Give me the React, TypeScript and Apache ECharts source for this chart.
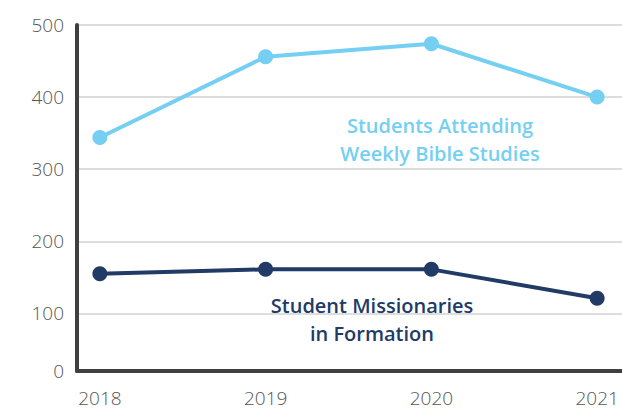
import React, { useEffect, useRef } from "react";
import * as echarts from "echarts";

const years = [2018, 2019, 2020, 2021];
const bibleStudies = [344, 456, 474, 400];
const missionaries = [155, 161, 161, 121];
const yTickValues = [20, 100, 200, 300, 400, 500];
const yTickLabels = ["0", "100", "200", "300", "400", "500"];
const gridValues = [100, 200, 300, 400, 500];
const bibleLabel = ["Students Attending", "Weekly Bible Studies"];
const missionLabel = ["Student Missionaries", "in Formation"];

const LIGHT = "#74cff2";
const DARK = "#213a66";
const TICK_FONT = "'Open Sans'";
const LABEL_FONT = "'Open Sans'";

function lineText(text: string, x: number, y: number, fill: string) {
  return {
    type: "text",
    x,
    y,
    style: {
      text,
      fill,
      font: `600 20px ${LABEL_FONT}`,
      align: "center",
      verticalAlign: "middle",
    },
  };
}

export default function App() {
  const ref = useRef<HTMLDivElement>(null);
  useEffect(() => {
    const chart = echarts.init(ref.current!, null, { renderer: "svg" });
    chart.setOption({
      animation: false,
      backgroundColor: "#ffffff",
      grid: { left: 77, right: 0, top: 25, bottom: 43, outerBoundsMode: "none" },
      xAxis: {
        type: "value",
        min: 2017.862,
        max: 2021.15,
        axisLine: { show: true, onZero: false, lineStyle: { color: "#3f3f3f", width: 4 } },
        axisTick: { show: false, customValues: years },
        splitLine: { show: false },
        axisLabel: {
          customValues: years,
          formatter: (v: number) => String(v),
          color: "#555555",
          fontSize: 19,
          fontWeight: 300,
          fontFamily: TICK_FONT,
          margin: 17,
        },
      },
      yAxis: {
        type: "value",
        min: 20,
        max: 500,
        axisLine: { show: true, onZero: false, lineStyle: { color: "#3f3f3f", width: 4 } },
        axisTick: { show: false, customValues: gridValues },
        splitLine: { show: true, lineStyle: { color: "#d2d2d2", width: 1.5 } },
        axisLabel: {
          customValues: yTickValues,
          formatter: (v: number) => yTickLabels[yTickValues.indexOf(v)] ?? String(v),
          color: "#555555",
          fontSize: 19,
          fontWeight: 300,
          fontFamily: TICK_FONT,
          margin: 13,
        },
      },
      series: [
        {
          type: "line",
          data: years.map((y, i) => [y, bibleStudies[i]]),
          symbol: "circle",
          symbolSize: 15,
          lineStyle: { color: LIGHT, width: 4 },
          itemStyle: { color: LIGHT },
          z: 3,
        },
        {
          type: "line",
          data: years.map((y, i) => [y, missionaries[i]]),
          symbol: "circle",
          symbolSize: 15,
          lineStyle: { color: DARK, width: 4 },
          itemStyle: { color: DARK },
          z: 3,
        },
      ],
      graphic: [
        lineText(bibleLabel[0], 440, 125, LIGHT),
        lineText(bibleLabel[1], 440, 153, LIGHT),
        lineText(missionLabel[0], 372, 305, DARK),
        lineText(missionLabel[1], 372, 333, DARK),
      ],
    });
    return () => chart.dispose();
  }, []);
  return (
    <div
      ref={ref}
      style={{ position: "fixed", left: 0, top: 0, width: 622, height: 414 }}
    />
  );
}
